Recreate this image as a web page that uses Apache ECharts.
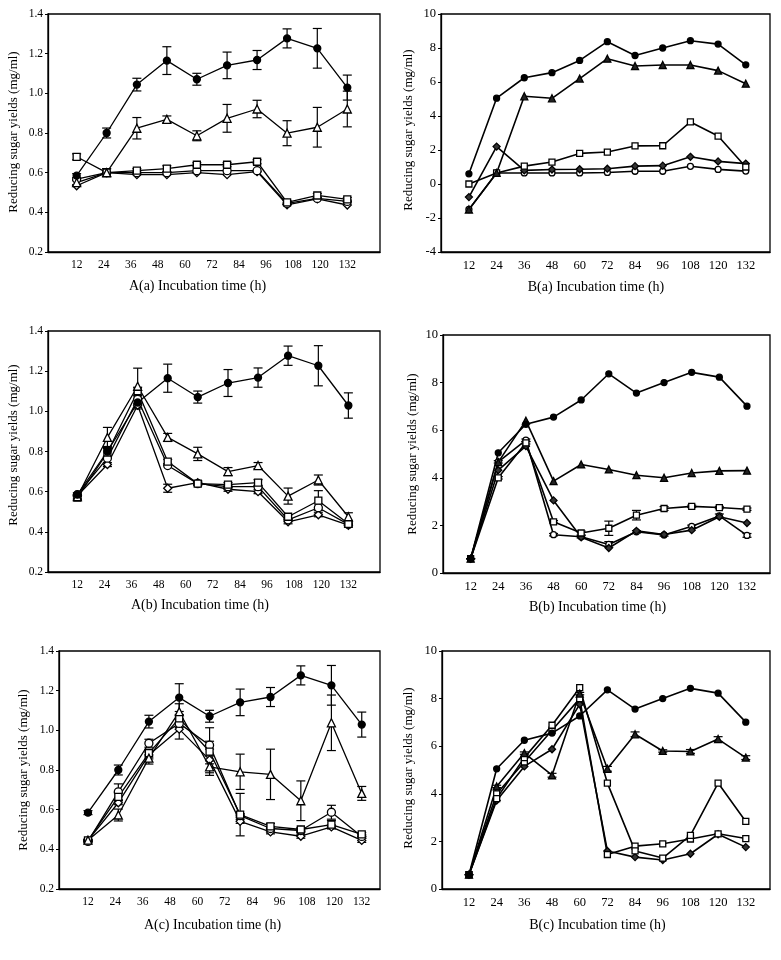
<!DOCTYPE html>
<html><head><meta charset="utf-8">
<script src="https://cdn.jsdelivr.net/npm/echarts@6/dist/echarts.min.js"></script>
<style>html,body{margin:0;padding:0;background:#fff}#c{width:781px;height:960px}</style>
</head><body><div id="c"></div>
<script>
// ---------- data ----------
const xTicks = [12, 24, 36, 48, 60, 72, 84, 96, 108, 120, 132];
// A panels: 10 samples, plotted at these positions on the hour scale
const aTimes = [12, 25.3, 38.7, 52, 65.3, 78.7, 92, 105.3, 118.7, 132];
const bTimes = [12, 24, 36, 48, 60, 72, 84, 96, 108, 120, 132];

// A control (same in A(a), A(b), A(c))
const aCtrl    = [0.585, 0.80, 1.044, 1.165, 1.071, 1.141, 1.168, 1.277, 1.227, 1.029];
const aCtrlErr = [0.01, 0.025, 0.032, 0.07, 0.03, 0.067, 0.048, 0.048, 0.1, 0.063];

// A(a)
const aaTri    = [0.55, 0.60, 0.824, 0.869, 0.786, 0.874, 0.921, 0.799, 0.829, 0.921];
const aaTriErr = [0.01, 0.02, 0.054, 0.017, 0.025, 0.07, 0.044, 0.063, 0.1, 0.09];
const aaSq     = [0.68, 0.60, 0.61, 0.62, 0.64, 0.64, 0.655, 0.45, 0.485, 0.465];
const aaSqErr  = [0.015, 0.02, 0.01, 0.015, 0.01, 0.01, 0.01, 0.01, 0.01, 0.01];
const aaCir    = [0.567, 0.60, 0.60, 0.60, 0.61, 0.61, 0.61, 0.445, 0.47, 0.455];
const aaDia    = [0.534, 0.60, 0.59, 0.59, 0.60, 0.59, 0.605, 0.438, 0.468, 0.437];

// A(b)
const abTri    = [0.575, 0.87, 1.125, 0.87, 0.788, 0.70, 0.73, 0.578, 0.658, 0.475];
const abTriErr = [0.01, 0.05, 0.09, 0.02, 0.033, 0.02, 0.015, 0.04, 0.025, 0.02];
const abSq     = [0.57, 0.795, 1.10, 0.75, 0.64, 0.635, 0.645, 0.475, 0.555, 0.44];
const abSqErr  = [0.01, 0.02, 0.02, 0.01, 0.01, 0.01, 0.015, 0.01, 0.05, 0.01];
const abCir    = [0.585, 0.767, 1.06, 0.73, 0.64, 0.625, 0.625, 0.46, 0.52, 0.437];
const abDia    = [0.58, 0.735, 1.03, 0.617, 0.645, 0.612, 0.60, 0.45, 0.485, 0.433];
const abDiaErr = [0.005, 0.01, 0.01, 0.02, 0.01, 0.01, 0.01, 0.01, 0.01, 0.01];

// A(c)
const acTri    = [0.446, 0.573, 0.86, 1.094, 0.816, 0.791, 0.778, 0.645, 1.038, 0.682];
const acTriErr = [0.005, 0.03, 0.03, 0.04, 0.03, 0.089, 0.127, 0.1, 0.14, 0.035];
const acSq     = [0.445, 0.665, 0.885, 1.06, 0.893, 0.575, 0.516, 0.50, 0.525, 0.475];
const acSqErr  = [0.005, 0.02, 0.02, 0.02, 0.12, 0.107, 0.015, 0.01, 0.02, 0.01];
const acCir    = [0.44, 0.69, 0.935, 1.035, 0.925, 0.57, 0.505, 0.495, 0.587, 0.465];
const acCirErr = [0.005, 0.04, 0.02, 0.02, 0.02, 0.01, 0.01, 0.01, 0.035, 0.01];
const acDia    = [0.445, 0.635, 0.876, 1.006, 0.851, 0.541, 0.488, 0.466, 0.513, 0.445];
const acDiaErr = [0.005, 0.01, 0.02, 0.05, 0.02, 0.01, 0.01, 0.01, 0.01, 0.01];

// B control (same in B(a), B(b), B(c))
const bCtrl = [0.6, 5.05, 6.25, 6.55, 7.27, 8.37, 7.56, 8.0, 8.43, 8.23, 7.01];

// B(a)
const baTri = [-1.5, 0.65, 5.16, 5.04, 6.2, 7.37, 6.94, 7.0, 7.0, 6.67, 5.9];
const baSq  = [0.0, 0.65, 1.05, 1.29, 1.8, 1.88, 2.24, 2.25, 3.65, 2.82, 1.0];
const baDia = [-0.77, 2.2, 0.8, 0.85, 0.87, 0.9, 1.05, 1.08, 1.6, 1.33, 1.2];
const baCir = [-1.5, 0.65, 0.65, 0.65, 0.65, 0.68, 0.75, 0.75, 1.04, 0.86, 0.76];

// B(b)
const bbTri    = [0.6, 4.66, 6.4, 3.86, 4.56, 4.35, 4.11, 4.0, 4.2, 4.29, 4.3];
const bbSq     = [0.6, 4.0, 5.47, 2.15, 1.68, 1.88, 2.43, 2.71, 2.8, 2.75, 2.68];
const bbSqErr  = [0, 0.05, 0.05, 0.05, 0.08, 0.3, 0.2, 0.08, 0.05, 0.05, 0.05];
const bbDia    = [0.6, 4.32, 5.33, 3.05, 1.5, 1.05, 1.77, 1.62, 1.8, 2.36, 2.1];
const bbCir    = [0.6, 4.67, 5.58, 1.61, 1.52, 1.2, 1.73, 1.6, 1.96, 2.4, 1.58];
const bbCirErr = [0, 0.05, 0.05, 0.05, 0.05, 0.12, 0.05, 0.05, 0.05, 0.08, 0.08];

// B(c)
const bcTri    = [0.6, 4.31, 5.71, 4.78, 8.21, 5.05, 6.5, 5.8, 5.78, 6.3, 5.52];
const bcTriErr = [0, 0.05, 0.05, 0.08, 0.05, 0.1, 0.1, 0.05, 0.08, 0.1, 0.08];
const bcSq     = [0.6, 3.8, 5.52, 6.88, 8.46, 4.45, 1.6, 1.3, 2.25, 4.45, 2.84];
const bcSq2    = [0.6, 4.0, 5.34, 6.67, 8.0, 1.45, 1.8, 1.9, 2.1, 2.32, 2.12];
const bcDia    = [0.6, 3.72, 5.15, 5.87, 7.76, 1.6, 1.34, 1.22, 1.48, 2.3, 1.76];

const yTitle = 'Reducing sugar yields (mg/ml)';
const xTitleSuffix = ' Incubation time (h)';

// ---------- styles ----------
const FONT = '"Liberation Serif", "Times New Roman", serif';
const A_MARK = {
  ctrl: {symbol: 'circle', fill: '#000', size: 7},
  tri:  {symbol: 'triangle', fill: '#fff', size: 8},
  sq:   {symbol: 'rect', fill: '#fff', size: 7},
  cir:  {symbol: 'circle', fill: '#fff', size: 8},
  dia:  {symbol: 'diamond', fill: '#fff', size: 8}
};
const B_MARK = {
  ctrl: {symbol: 'circle', fill: '#000', size: 6},
  tri:  {symbol: 'triangle', fill: '#222', size: 7},
  sq:   {symbol: 'rect', fill: '#fff', size: 6},
  cir:  {symbol: 'circle', fill: '#fff', size: 6},
  dia:  {symbol: 'diamond', fill: '#333', size: 7}
};

const panels = [
  {name: 'A(a)', grid: {left: 48, top: 14, width: 332, height: 238}, xr: [-0.7, 146.5], y: [0.2, 1.4, 0.2], dec: 1,
   times: aTimes, mk: A_MARK, lw: 1.3, fs: 11.5, yt: [13.5, 132], xt: [197.5, 286],
   series: [['dia', aaDia], ['cir', aaCir], ['sq', aaSq, aaSqErr], ['tri', aaTri, aaTriErr], ['ctrl', aCtrl, aCtrlErr]]},
  {name: 'B(a)', grid: {left: 441, top: 14, width: 329, height: 238}, xr: [-0.1, 142.5], y: [-4, 10, 2], dec: 0,
   times: bTimes, mk: B_MARK, lw: 1.6, fs: 12.5, yt: [409, 130], xt: [596, 287],
   series: [['cir', baCir], ['dia', baDia], ['sq', baSq], ['tri', baTri], ['ctrl', bCtrl]]},
  {name: 'A(b)', grid: {left: 48, top: 331, width: 332, height: 241}, xr: [-1, 146], y: [0.2, 1.4, 0.2], dec: 1,
   times: aTimes, mk: A_MARK, lw: 1.3, fs: 11.5, yt: [14, 445], xt: [200, 605],
   series: [['dia', abDia, abDiaErr], ['cir', abCir], ['sq', abSq, abSqErr], ['tri', abTri, abTriErr], ['ctrl', aCtrl, aCtrlErr]]},
  {name: 'B(b)', grid: {left: 443, top: 335, width: 327, height: 238}, xr: [0, 142], y: [0, 10, 2], dec: 0,
   times: bTimes, mk: B_MARK, lw: 1.6, fs: 12.5, yt: [413, 454], xt: [597.5, 607.5],
   series: [['cir', bbCir, bbCirErr], ['dia', bbDia], ['sq', bbSq, bbSqErr], ['tri', bbTri], ['ctrl', bCtrl]]},
  {name: 'A(c)', grid: {left: 59, top: 651, width: 321, height: 238}, xr: [-0.7, 140], y: [0.2, 1.4, 0.2], dec: 1,
   times: aTimes, mk: A_MARK, lw: 1.3, fs: 11.5, yt: [23.5, 770], xt: [212.5, 925.5],
   series: [['dia', acDia, acDiaErr], ['cir', acCir, acCirErr], ['sq', acSq, acSqErr], ['tri', acTri, acTriErr], ['ctrl', aCtrl, aCtrlErr]]},
  {name: 'B(c)', grid: {left: 442, top: 651, width: 328, height: 238}, xr: [0.3, 142.5], y: [0, 10, 2], dec: 0,
   times: bTimes, mk: B_MARK, lw: 1.6, fs: 12.5, yt: [409, 768], xt: [597.5, 925],
   series: [['dia', bcDia], ['sq', bcSq2], ['sq', bcSq], ['tri', bcTri, bcTriErr], ['ctrl', bCtrl]]}
];

function renderErr(params, api) {
  const x = api.value(0), lo = api.value(1), hi = api.value(2);
  const a = api.coord([x, hi]), b = api.coord([x, lo]);
  const w = 4.5;
  const st = {stroke: '#000', lineWidth: 1.2};
  return {type: 'group', children: [
    {type: 'line', shape: {x1: a[0], y1: a[1], x2: b[0], y2: b[1]}, style: st},
    {type: 'line', shape: {x1: a[0] - w, y1: a[1], x2: a[0] + w, y2: a[1]}, style: st},
    {type: 'line', shape: {x1: b[0] - w, y1: b[1], x2: b[0] + w, y2: b[1]}, style: st}
  ]};
}

const option = {animation: false, backgroundColor: '#fff', grid: [], xAxis: [], yAxis: [], series: [], graphic: []};

panels.forEach((p, i) => {
  option.grid.push(Object.assign({show: true, borderColor: '#000', borderWidth: 1.3, backgroundColor: 'transparent'}, p.grid));
  option.xAxis.push({
    type: 'value', gridIndex: i, min: p.xr[0], max: p.xr[1],
    axisLine: {show: true, onZero: false, lineStyle: {color: '#000', width: 1.3}},
    axisTick: {show: false},
    splitLine: {show: false},
    axisLabel: {customValues: xTicks, color: '#000', fontFamily: FONT, fontSize: p.fs, margin: 7}
  });
  option.yAxis.push({
    type: 'value', gridIndex: i, min: p.y[0], max: p.y[1], interval: p.y[2],
    axisLine: {show: true, onZero: false, lineStyle: {color: '#000', width: 1.3}},
    axisTick: {show: true, inside: false, length: 3, lineStyle: {color: '#000'}},
    splitLine: {show: false},
    axisLabel: {color: '#000', fontFamily: FONT, fontSize: p.fs, margin: 5,
      formatter: v => (p.dec ? (+v).toFixed(p.dec) : String(Math.round(v)))}
  });
  p.series.forEach(([kind, vals, err]) => {
    const m = p.mk[kind];
    if (err) {
      option.series.push({
        type: 'custom', xAxisIndex: i, yAxisIndex: i, z: 1, silent: true,
        renderItem: renderErr, encode: {x: 0, y: [1, 2]},
        data: p.times.map((t, k) => [t, vals[k] - err[k], vals[k] + err[k]])
      });
    }
    option.series.push({
      type: 'line', xAxisIndex: i, yAxisIndex: i, z: 2,
      data: p.times.map((t, k) => [t, vals[k]]),
      symbol: m.symbol, symbolSize: m.size, showAllSymbol: true,
      lineStyle: {color: '#000', width: p.lw},
      itemStyle: {color: m.fill, borderColor: '#000', borderWidth: 1.3}
    });
  });
  option.graphic.push({type: 'text', x: p.xt[0], y: p.xt[1], silent: true,
    style: {text: p.name + xTitleSuffix, font: '14px ' + FONT, fill: '#000', textAlign: 'center', textVerticalAlign: 'middle'}});
  option.graphic.push({type: 'text', x: p.yt[0], y: p.yt[1], rotation: Math.PI / 2, silent: true,
    style: {text: yTitle, font: '13px ' + FONT, fill: '#000', textAlign: 'center', textVerticalAlign: 'middle'}});
});

const chart = echarts.init(document.getElementById('c'), null, {renderer: 'canvas'});
chart.setOption(option);
</script></body></html>
